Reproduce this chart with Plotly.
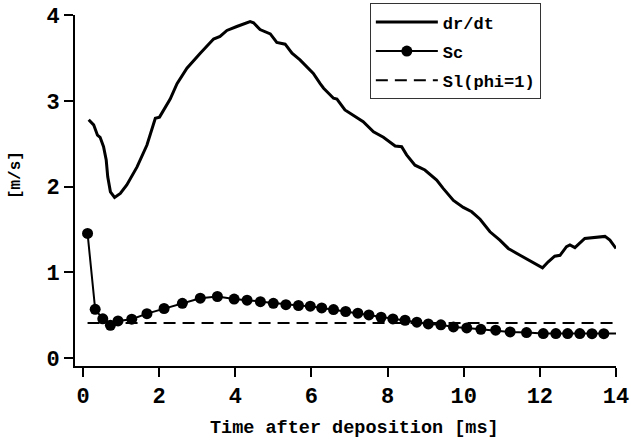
import plotly.graph_objects as go

# dr/dt curve
drdt_t = [0.15, 0.28, 0.38, 0.45, 0.54, 0.61, 0.65, 0.72, 0.83, 0.98, 1.15, 1.42, 1.68, 1.90, 2.01,
          2.12, 2.29, 2.47, 2.73, 3.08, 3.43, 3.60, 3.78, 4.04, 4.21, 4.39, 4.48, 4.65, 4.92, 5.09,
          5.31, 5.49, 5.70, 5.88, 6.05, 6.23, 6.32, 6.58, 6.67, 6.88, 7.10, 7.36, 7.63, 7.89, 8.20,
          8.37, 8.50, 8.72, 8.98, 9.29, 9.46, 9.73, 9.99, 10.21, 10.43, 10.69, 10.95, 11.17, 11.48,
          11.74, 12.07, 12.22, 12.39, 12.53, 12.70, 12.79, 12.92, 13.18, 13.40, 13.71, 13.84, 14.0]
drdt_v = [2.78, 2.72, 2.60, 2.575, 2.466, 2.31, 2.115, 1.94, 1.875, 1.92, 2.02, 2.23, 2.485, 2.797, 2.81,
          2.894, 3.02, 3.20, 3.38, 3.555, 3.72, 3.75, 3.82, 3.866, 3.897, 3.924, 3.91, 3.83, 3.78, 3.68,
          3.66, 3.555, 3.477, 3.40, 3.32, 3.20, 3.147, 3.03, 3.02, 2.894, 2.835, 2.757, 2.64, 2.575, 2.474,
          2.466, 2.37, 2.25, 2.194, 2.077, 1.98, 1.84, 1.758, 1.707, 1.62, 1.474, 1.377, 1.28, 1.20,
          1.135, 1.054, 1.124, 1.19, 1.20, 1.30, 1.32, 1.29, 1.397, 1.408, 1.42, 1.377, 1.28]

# Sc markers
sc_t = [0.12, 0.32, 0.52, 0.72, 0.92, 1.28, 1.68, 2.13, 2.61, 3.08, 3.53, 3.97, 4.31, 4.66, 5.00,
        5.33, 5.66, 5.97, 6.27, 6.58, 6.90, 7.22, 7.51, 7.83, 8.14, 8.46, 8.77, 9.07, 9.40, 9.73,
        10.08, 10.45, 10.84, 11.22, 11.65, 12.09, 12.42, 12.73, 13.05, 13.37, 13.68, 14.02]
sc_v = [1.455, 0.57, 0.46, 0.385, 0.435, 0.455, 0.52, 0.58, 0.64, 0.70, 0.72, 0.69, 0.677, 0.66, 0.64,
        0.625, 0.615, 0.607, 0.587, 0.568, 0.545, 0.525, 0.505, 0.478, 0.459, 0.443, 0.42, 0.40, 0.39, 0.365,
        0.354, 0.338, 0.327, 0.307, 0.30, 0.288, 0.288, 0.288, 0.288, 0.286, 0.286, 0.29]

# Sl(phi=1) line
sl_t = [0.12, 14.0]
sl_v = [0.41, 0.41]

x_ticks = [0, 2, 4, 6, 8, 10, 12, 14]
y_ticks = [0, 1, 2, 3, 4]

FONT = "Liberation Mono, Courier New, monospace"

fig = go.Figure()
fig.add_trace(go.Scatter(x=drdt_t, y=drdt_v, mode="lines", name="dr/dt",
                         line=dict(color="black", width=3), cliponaxis=False, legendgroup="a"))
fig.add_trace(go.Scatter(x=sc_t, y=sc_v, mode="lines+markers", name="Sc",
                         line=dict(color="black", width=2),
                         marker=dict(color="black", size=11), cliponaxis=False, legendgroup="b"))
fig.add_trace(go.Scatter(x=sl_t, y=sl_v, mode="lines", name="Sl(phi=1)",
                         line=dict(color="black", width=2, dash="12px,7px"), cliponaxis=False,
                         legendgroup="c"))

axis_common = dict(showline=True, linecolor="black", linewidth=2, ticks="outside",
                   tickcolor="black", tickwidth=2, ticklen=9, showgrid=False, zeroline=False,
                   automargin=False, ticklabeloverflow="allow",
                   tickfont=dict(family=FONT, size=22, color="black", weight="bold"))

fig.update_xaxes(range=[-0.21, 14.0], tickvals=x_ticks, ticktext=[str(v) for v in x_ticks],
                 **axis_common)
fig.update_yaxes(range=[-0.09, 4.0], tickvals=y_ticks, ticktext=[str(v) for v in y_ticks],
                 **axis_common)

fig.add_annotation(text="Time after deposition [ms]", xref="paper", yref="paper",
                   x=0.516, y=-0.179, xanchor="center", yanchor="middle", showarrow=False,
                   font=dict(family=FONT, size=18.5, color="black", weight="bold"))
fig.add_annotation(text="[m/s]", xref="paper", yref="paper", textangle=-90,
                   x=-0.109, y=0.544, xanchor="center", yanchor="middle", showarrow=False,
                   font=dict(family=FONT, size=16, color="black", weight="bold"))

fig.update_layout(
    width=631, height=444,
    margin=dict(l=75, r=15, t=15, b=78, autoexpand=False),
    plot_bgcolor="white", paper_bgcolor="white",
    showlegend=True,
    hovermode=False,
    legend=dict(x=0.545, y=1.033, xanchor="left", yanchor="top",
                bordercolor="#333", borderwidth=1, bgcolor="white",
                font=dict(family=FONT, size=17, color="black", weight="bold"),
                traceorder="grouped", tracegroupgap=4, itemwidth=62),
)

fig.write_html("out.html", config={"displayModeBar": False, "staticPlot": True},
               post_script="document.body.style.margin='0';document.body.style.padding='0';")
